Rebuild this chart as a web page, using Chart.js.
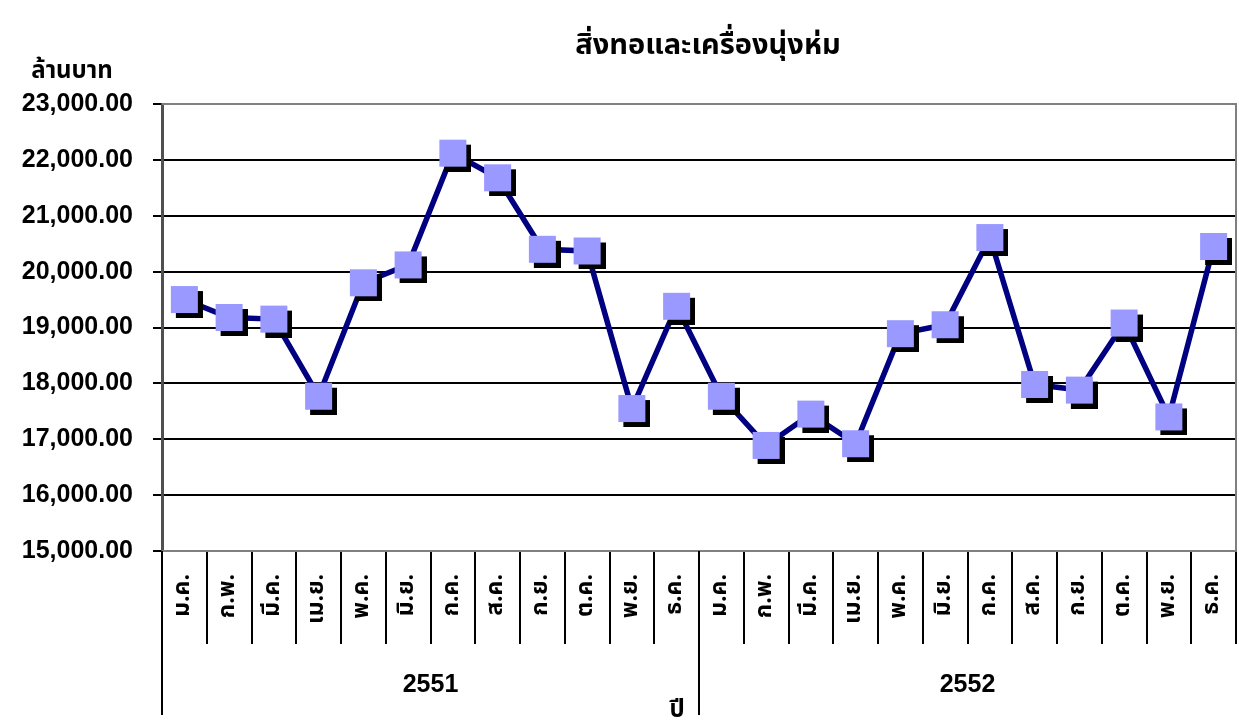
<!DOCTYPE html>
<html><head><meta charset="utf-8">
<script src="https://cdn.jsdelivr.net/npm/chart.js@4"></script>
<style>html,body{margin:0;padding:0;background:#fff;overflow:hidden}</style>
</head><body>
<canvas id="c" width="1239" height="727"></canvas>
<script>
const chartTitle = 'สิ่งทอและเครื่องนุ่งห่ม';
const yUnitLabel = 'ล้านบาท';
const xAxisTitle = 'ปี';
const months = ['ม.ค.','ก.พ.','มี.ค.','เม.ย.','พ.ค.','มิ.ย.','ก.ค.','ส.ค.','ก.ย.','ต.ค.','พ.ย.','ธ.ค.'];
const years = ['2551','2552'];
const values2551 = [19500,19180,19150,17770,19800,20120,22120,21680,20400,20370,17550,19380];
const values2552 = [17770,16890,17450,16920,18890,19050,20610,17980,17880,19080,17400,20450];
const yMin = 15000, yMax = 23000, yStep = 1000;

const labels = years.flatMap(() => months);
const values = values2551.concat(values2552);

const THAI = '"Noto Sans Thai", Tahoma, "Noto Sans", "DejaVu Sans", sans-serif';
const NUM = '"Liberation Sans", Arial, sans-serif';

function makeMarker(){
  const c = document.createElement('canvas');
  c.width = 37; c.height = 37;
  const g = c.getContext('2d');
  g.fillStyle = '#000'; g.fillRect(10,10,27,27);
  g.fillStyle = '#9999ff'; g.fillRect(5,5,27,27);
  return c;
}

const decor = {
  id: 'decor',
  beforeDatasetsDraw(chart){
    const {ctx, chartArea:a} = chart;
    ctx.save();
    ctx.strokeStyle = '#808080'; ctx.lineWidth = 2;
    ctx.beginPath();
    ctx.moveTo(a.left, a.top); ctx.lineTo(a.right, a.top);
    ctx.lineTo(a.right, a.bottom); ctx.lineTo(a.left, a.bottom);
    ctx.stroke();
    ctx.restore();
  },
  afterDraw(chart){
    const {ctx, chartArea:a, scales:{x}} = chart;
    const half = (x.getPixelForTick(1) - x.getPixelForTick(0)) / 2;
    ctx.save();
    ctx.strokeStyle = '#000'; ctx.lineWidth = 2;
    years.forEach((y, k) => {
      const bx = Math.round(x.getPixelForTick(k * months.length) - half);
      ctx.beginPath(); ctx.moveTo(bx, a.bottom); ctx.lineTo(bx, 715); ctx.stroke();
    });
    ctx.fillStyle = '#000';
    ctx.textAlign = 'center'; ctx.textBaseline = 'middle';
    ctx.font = 'bold 25px ' + NUM;
    years.forEach((y, k) => {
      const c = (x.getPixelForTick(k * months.length) + x.getPixelForTick(k * months.length + months.length - 1)) / 2;
      ctx.fillText(y, c, 685);
    });
    ctx.textBaseline = 'alphabetic';
    ctx.font = 'bold 29px ' + THAI;
    ctx.fillText(chartTitle, 708, 54);
    ctx.font = 'bold 24px ' + THAI;
    ctx.fillText(yUnitLabel, 72, 78);
    ctx.textBaseline = 'top';
    ctx.font = 'bold 24px ' + THAI;
    ctx.fillText(xAxisTitle, 677, 700);
    ctx.restore();
  }
};

new Chart(document.getElementById('c'), {
  type: 'line',
  data: {
    labels: labels,
    datasets: [{
      data: values,
      borderColor: '#000080',
      borderWidth: 5.5,
      tension: 0,
      pointStyle: makeMarker(),
      pointRadius: 14,
      pointHoverRadius: 14,
      clip: false
    }]
  },
  options: {
    responsive: false,
    animation: false,
    devicePixelRatio: 1,
    layout: { autoPadding: false, padding: { top: 104, right: 3, left: 0, bottom: 0 } },
    plugins: { legend: { display: false }, title: { display: false }, tooltip: { enabled: false } },
    scales: {
      x: {
        type: 'category',
        offset: true,
        afterFit(s){ s.height = 176; s.paddingLeft = 0; s.paddingRight = 0; },
        grid: {
          offset: true,
          drawOnChartArea: false,
          drawTicks: true,
          tickLength: 93,
          lineWidth: 2,
          color: c => c.index >= labels.length ? 'rgba(0,0,0,0)' : '#000'
        },
        border: { display: true, color: '#808080', width: 2 },
        ticks: {
          autoSkip: false,
          minRotation: 90,
          maxRotation: 90,
          padding: -70,
          color: '#000',
          font: { family: THAI, size: 23, weight: 'bold' }
        }
      },
      y: {
        min: yMin,
        max: yMax,
        afterFit(s){ s.width = 162; s.paddingTop = 0; s.paddingBottom = 0; },
        grid: {
          lineWidth: 2,
          tickLength: 9,
          tickColor: '#000',
          color: c => (c.tick && (c.tick.value === yMin || c.tick.value === yMax)) ? '#808080' : '#000'
        },
        border: { display: true, color: '#505050', width: 3 },
        ticks: {
          stepSize: yStep,
          padding: 20,
          color: '#000',
          font: { family: NUM, size: 25, weight: 'bold' },
          callback: v => Number(v).toLocaleString('en-US', { minimumFractionDigits: 2, maximumFractionDigits: 2 })
        }
      }
    }
  },
  plugins: [decor]
});
</script>
</body></html>
